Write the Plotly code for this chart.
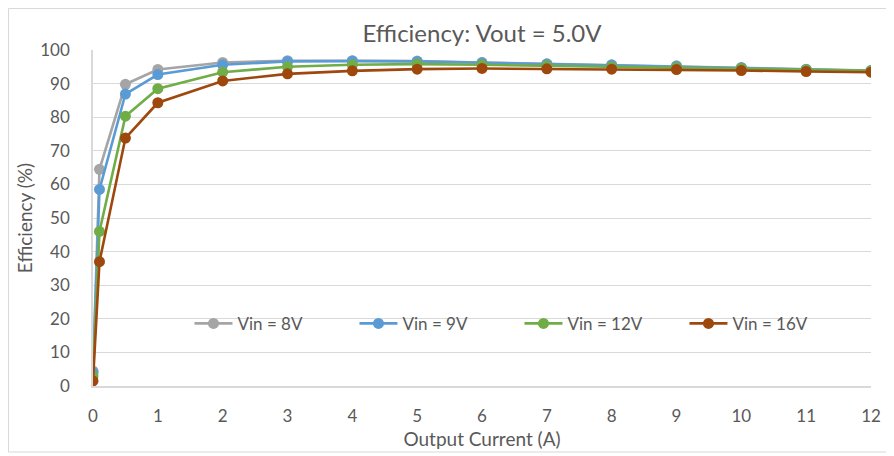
import plotly.graph_objects as go

current = [0, 0.1, 0.5, 1, 2, 3, 4, 5, 6, 7, 8, 9, 10, 11, 12]
eff_8v = [4.5, 64.5, 89.8, 94.2, 96.3, 96.8, 96.8, 96.7, 96.3, 95.9, 95.6, 95.3, 94.8, 94.3, 93.9]
eff_9v = [4.0, 58.5, 86.9, 92.7, 95.6, 96.6, 96.7, 96.6, 96.2, 95.8, 95.5, 95.2, 94.7, 94.2, 93.8]
eff_12v = [3.0, 46.0, 80.3, 88.5, 93.4, 95.0, 95.6, 95.8, 95.6, 95.3, 95.0, 94.8, 94.5, 94.1, 93.8]
eff_16v = [1.5, 37.0, 73.8, 84.3, 90.8, 92.9, 93.8, 94.3, 94.5, 94.4, 94.3, 94.2, 93.9, 93.6, 93.4]

series = [
    ("Vin = 8V", eff_8v, "#A5A5A5"),
    ("Vin = 9V", eff_9v, "#5B9BD5"),
    ("Vin = 12V", eff_12v, "#70AD47"),
    ("Vin = 16V", eff_16v, "#9E480E"),
]

x_ticks = list(range(0, 13))
y_ticks = list(range(0, 101, 10))

fig = go.Figure()
for name, vals, color in series:
    fig.add_trace(go.Scatter(
        x=current, y=vals, name=name, mode="lines+markers",
        line=dict(color=color, width=2.6),
        marker=dict(color=color, size=11),
    ))

font_family = "Lato, 'Open Sans', sans-serif"
fig.update_layout(
    width=886, height=448,
    margin=dict(l=85, r=23, t=42, b=70, autoexpand=False),
    paper_bgcolor="white", plot_bgcolor="white",
    font=dict(family=font_family, color="#595959", size=15),
    title=dict(text="Efficiency: Vout = 5.0V", x=0.5, xref="paper",
               y=1 - 26 / 448, yref="container", xanchor="center", yanchor="middle",
               font=dict(size=24, color="#595959", family=font_family)),
    showlegend=True,
    legend=dict(orientation="h", x=0.124, y=0.185, xanchor="left", yanchor="middle",
                bgcolor="rgba(0,0,0,0)", entrywidth=112, entrywidthmode="pixels",
                font=dict(size=17, color="#595959"), itemwidth=38),
    xaxis=dict(range=[0, 12], tickvals=x_ticks, showgrid=False, zeroline=False,
               showline=True, linecolor="#D9D9D9", linewidth=1.5,
               tickfont=dict(size=17), ticks="", ticklabelstandoff=14,
               title=dict(text="Output Current (A)", font=dict(size=19), standoff=8)),
    yaxis=dict(range=[0, 100], tickvals=y_ticks, showgrid=True, gridcolor="#D9D9D9",
               gridwidth=1.2, zeroline=False, showline=True, linecolor="#D9D9D9",
               linewidth=1.5, tickfont=dict(size=17), ticks="", ticklabelstandoff=18,
               title=dict(text="Efficiency (%)", font=dict(size=19), standoff=3)),
    shapes=[dict(type="rect", xref="paper", yref="paper",
                 x0=-0.1086, x1=1.0231, y0=-0.1964, y1=1.1235,
                 line=dict(color="#D9D9D9", width=1), fillcolor="rgba(0,0,0,0)",
                 layer="below")],
)

fig.write_html("out.html")
